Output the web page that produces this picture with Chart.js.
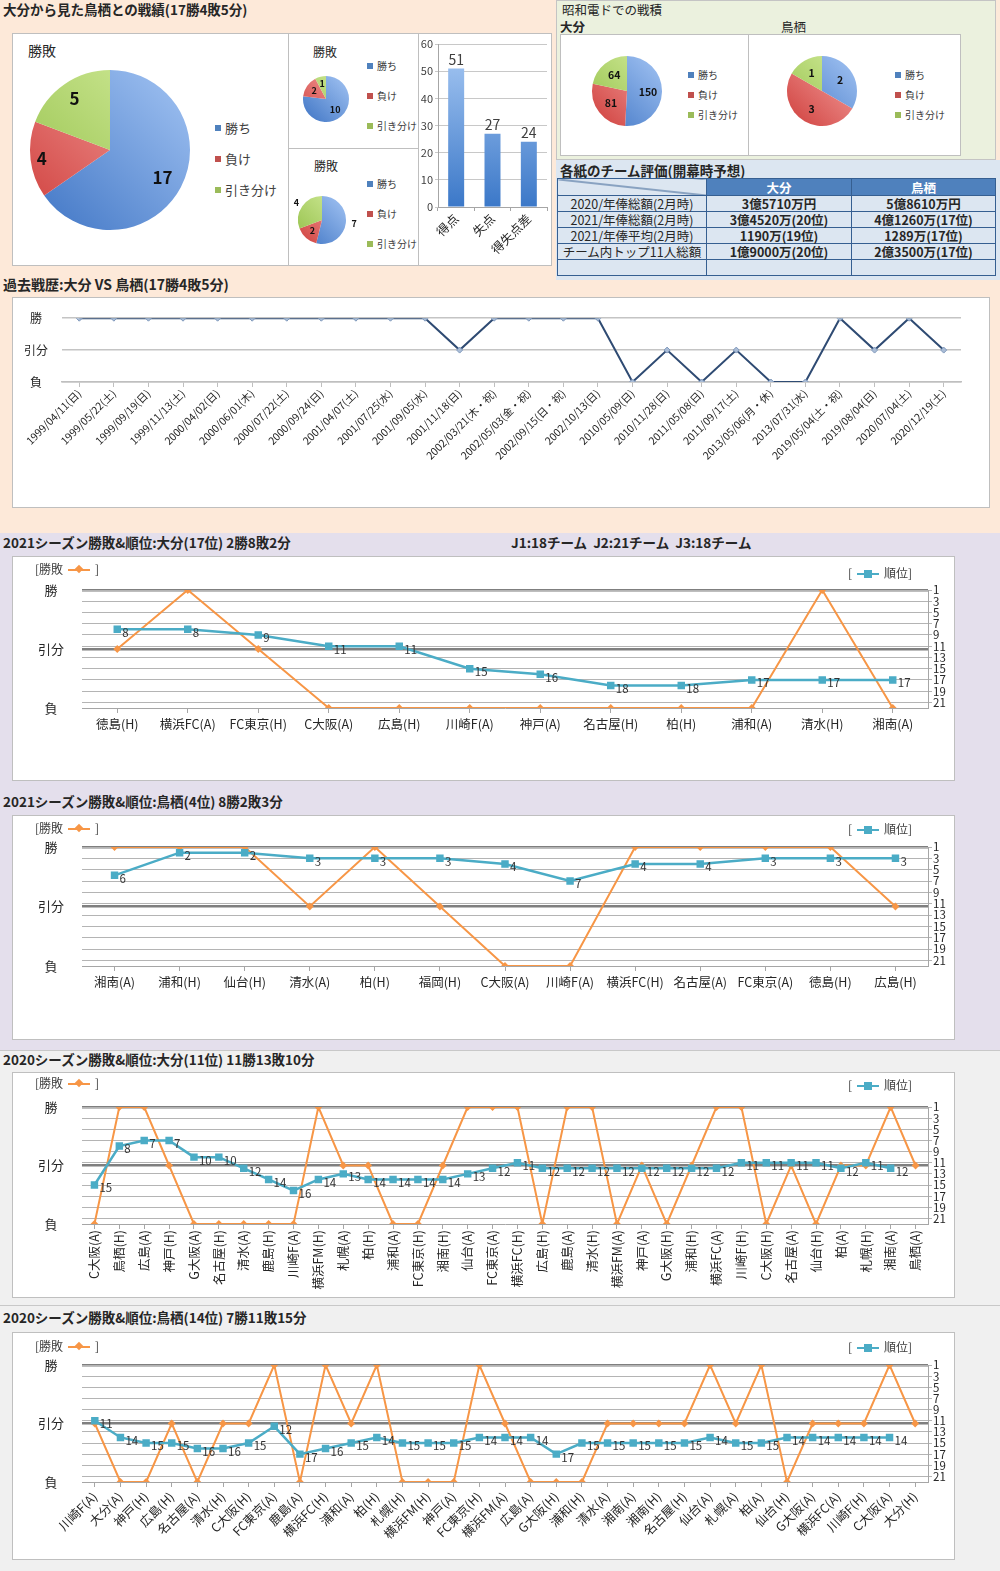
<!DOCTYPE html>
<html lang="ja">
<head>
<meta charset="utf-8">
<script src="https://cdn.jsdelivr.net/npm/chart.js@4.4.1/dist/chart.umd.min.js"></script>
<style>
body { margin:0; font-family:"Noto Sans CJK JP", sans-serif; color:#262626; }
#page { position:relative; width:1000px; height:1571px; overflow:hidden; background:#f0f0f0; }
.sec { position:absolute; }
.box { position:absolute; background:#fff; border:1px solid #bfbfbf; box-sizing:border-box; }
.title { position:absolute; font-weight:bold; font-size:13.5px; white-space:nowrap; line-height:15px; }
.txt { position:absolute; white-space:nowrap; line-height:14px; }
.leg { position:absolute; font-size:12px; white-space:nowrap; line-height:14px; color:#404040; }
.pl { position:absolute; white-space:nowrap; color:#404040; }
.pl div { position:absolute; left:0; }
.sq { display:inline-block; width:6px; height:6px; margin-right:4px; vertical-align:middle; position:relative; top:-1px; }
.mk { display:inline-block; position:relative; width:22px; height:2px; vertical-align:middle; margin:0 5px; top:-1px; }
.mk::after { content:''; position:absolute; left:8px; top:-3px; width:6px; height:6px; background:inherit; transform:rotate(45deg); }
.mk.b::after { transform:none; left:7px; top:-3px; width:8px; height:8px; }
.o { background:#f79646; } .b { background:#4bacc6; }
canvas { position:absolute; }
#rating { position:absolute; left:557px; top:178px; border-collapse:collapse; font-size:12.5px; table-layout:fixed; }
#rating td, #rating th { border:1px solid #365f91; height:15px; padding:0; line-height:15px; text-align:center; background:#dce6f1; white-space:nowrap; }
#rating th { background:#4f81bd; color:#fff; height:16px; }
#rating th.diag { background:#dce6f1 linear-gradient(to top right, transparent calc(50% - 1px), #365f91 50%, transparent calc(50% + 1px)); }
#rating td.v { font-weight:bold; }
</style>
</head>
<body>
<div id="page">
  <!-- backgrounds -->
  <div class="sec" style="left:0;top:0;width:1000px;height:533px;background:#fde9d9"></div>
  <div class="sec" style="left:556px;top:0;width:440px;height:160px;background:#ebf1de;border:1px solid #c4c4c4;box-sizing:border-box"></div>
  <div class="sec" style="left:556px;top:160px;width:444px;height:120px;background:#dce6f1"></div>
  <div class="sec" style="left:0;top:533px;width:1000px;height:517px;background:#e4dfec"></div>
  <div class="sec" style="left:0;top:1050px;width:1000px;height:521px;background:#f0f0f0;border-top:1px solid #c8c8c8"></div>
  <div class="sec" style="left:0;top:1305px;width:1000px;height:1px;background:#c8c8c8"></div>

  <!-- top left -->
  <div class="title" style="left:3px;top:2px">大分から見た鳥栖との戦績(17勝4敗5分)</div>
  <div class="box" style="left:12px;top:33px;width:277px;height:233px"></div>
  <div class="box" style="left:288px;top:33px;width:131px;height:116px"></div>
  <div class="box" style="left:288px;top:148px;width:131px;height:118px"></div>
  <div class="box" style="left:418px;top:33px;width:134px;height:233px"></div>
  <div class="txt" style="left:28px;top:43px;font-size:14px">勝敗</div>
  <div class="txt" style="left:313px;top:45px;font-size:12px">勝敗</div>
  <div class="txt" style="left:314px;top:159px;font-size:12px">勝敗</div>
  <canvas id="pieAll" width="170" height="170" style="left:25px;top:65px"></canvas>
  <canvas id="pieHome" width="60" height="60" style="left:296px;top:69px"></canvas>
  <canvas id="pieAway" width="84" height="84" style="left:280px;top:178px"></canvas>
  <canvas id="goals" width="134" height="232" style="left:418px;top:33px"></canvas>
  <div id="legAll" class="pl" style="left:215px;top:118px;font-size:13px"></div>
  <div id="legHome" class="pl" style="left:367px;top:58px;font-size:10px"></div>
  <div id="legAway" class="pl" style="left:367px;top:176px;font-size:10px"></div>

  <!-- top right -->
  <div class="txt" style="left:562px;top:3px;font-size:12.5px">昭和電ドでの戦積</div>
  <div class="txt" style="left:560px;top:20px;font-size:12.5px;font-weight:bold">大分</div>
  <div class="txt" style="left:781px;top:20px;font-size:12.5px">鳥栖</div>
  <div class="box" style="left:560px;top:34px;width:189px;height:122px"></div>
  <div class="box" style="left:748px;top:34px;width:213px;height:122px"></div>
  <canvas id="pieShowaOita" width="84" height="84" style="left:585px;top:49px"></canvas>
  <canvas id="pieShowaTosu" width="84" height="84" style="left:780px;top:49px"></canvas>
  <div id="legShowaOita" class="pl" style="left:688px;top:67px;font-size:10px"></div>
  <div id="legShowaTosu" class="pl" style="left:895px;top:67px;font-size:10px"></div>
  <div class="title" style="left:560px;top:163px;font-size:13.5px">各紙のチーム評価(開幕時予想)</div>
  <table id="rating"></table>

  <!-- past record -->
  <div class="title" style="left:3px;top:277px;font-size:14px">過去戦歴:大分 VS 鳥栖(17勝4敗5分)</div>
  <div class="box" style="left:12px;top:297px;width:978px;height:211px"></div>
  <canvas id="past" width="978" height="210" style="left:12px;top:297px"></canvas>

  <!-- 2021 Oita -->
  <div class="title" style="left:3px;top:535px">2021シーズン勝敗&amp;順位:大分(17位) 2勝8敗2分</div>
  <div class="title" style="left:511px;top:535px">J1:18チーム&nbsp; J2:21チーム&nbsp; J3:18チーム</div>
  <div class="box" style="left:12px;top:556px;width:943px;height:225px"></div>
  <canvas id="c21o" width="943" height="225" style="left:12px;top:556px"></canvas>
  <div class="leg" style="left:35px;top:562px">[勝敗<span class="mk o"></span>]</div>
  <div class="leg" style="left:848px;top:566px">[<span class="mk b"></span>順位]</div>

  <!-- 2021 Tosu -->
  <div class="title" style="left:3px;top:794px">2021シーズン勝敗&amp;順位:鳥栖(4位) 8勝2敗3分</div>
  <div class="box" style="left:12px;top:815px;width:943px;height:225px"></div>
  <canvas id="c21t" width="943" height="225" style="left:12px;top:815px"></canvas>
  <div class="leg" style="left:35px;top:821px">[勝敗<span class="mk o"></span>]</div>
  <div class="leg" style="left:848px;top:822px">[<span class="mk b"></span>順位]</div>

  <!-- 2020 Oita -->
  <div class="title" style="left:3px;top:1052px">2020シーズン勝敗&amp;順位:大分(11位) 11勝13敗10分</div>
  <div class="box" style="left:12px;top:1072px;width:943px;height:226px"></div>
  <canvas id="c20o" width="943" height="226" style="left:12px;top:1072px"></canvas>
  <div class="leg" style="left:35px;top:1076px">[勝敗<span class="mk o"></span>]</div>
  <div class="leg" style="left:848px;top:1078px">[<span class="mk b"></span>順位]</div>

  <!-- 2020 Tosu -->
  <div class="title" style="left:3px;top:1310px">2020シーズン勝敗&amp;順位:鳥栖(14位) 7勝11敗15分</div>
  <div class="box" style="left:12px;top:1332px;width:943px;height:228px"></div>
  <canvas id="c20t" width="943" height="228" style="left:12px;top:1332px"></canvas>
  <div class="leg" style="left:35px;top:1339px">[勝敗<span class="mk o"></span>]</div>
  <div class="leg" style="left:848px;top:1340px">[<span class="mk b"></span>順位]</div>
</div>

<script>
// ---- data ----
const resultLabels = ['勝ち', '負け', '引き分け'];
const totalResults = [17, 4, 5];
const homeResults = [10, 2, 1];
const awayResults = [7, 2, 4];
const showaOita = [150, 81, 64];
const showaTosu = [2, 3, 1];

const goalLabels = ['得点', '失点', '得失点差'];
const goalValues = [51, 27, 24];

const ratingRows = ['2020/年俸総額(2月時)', '2021/年俸総額(2月時)', '2021/年俸平均(2月時)', 'チーム内トップ11人総額', ''];
const ratingOita = ['3億5710万円', '3億4520万(20位)', '1190万(19位)', '1億9000万(20位)', ''];
const ratingTosu = ['5億8610万円', '4億1260万(17位)', '1289万(17位)', '2億3500万(17位)', ''];

const pastDates = ['1999/04/11(日)', '1999/05/22(土)', '1999/09/19(日)', '1999/11/13(土)', '2000/04/02(日)',
  '2000/06/01(木)', '2000/07/22(土)', '2000/09/24(日)', '2001/04/07(土)', '2001/07/25(水)', '2001/09/05(水)',
  '2001/11/18(日)', '2002/03/21(木・祝)', '2002/05/03(金・祝)', '2002/09/15(日・祝)', '2002/10/13(日)',
  '2010/05/09(日)', '2010/11/28(日)', '2011/05/08(日)', '2011/09/17(土)', '2013/05/06(月・休)',
  '2013/07/31(水)', '2019/05/04(土・祝)', '2019/08/04(日)', '2020/07/04(土)', '2020/12/19(土)'];
const pastResults = ['勝', '勝', '勝', '勝', '勝', '勝', '勝', '勝', '勝', '勝', '勝', '分', '勝', '勝', '勝', '勝',
  '負', '分', '負', '分', '負', '負', '勝', '分', '勝', '分'];

const oita2021Games = ['徳島(H)', '横浜FC(A)', 'FC東京(H)', 'C大阪(A)', '広島(H)', '川崎F(A)', '神戸(A)', '名古屋(H)', '柏(H)', '浦和(A)', '清水(H)', '湘南(A)'];
const oita2021Results = ['分', '勝', '分', '負', '負', '負', '負', '負', '負', '負', '勝', '負'];
const oita2021Ranks = [8, 8, 9, 11, 11, 15, 16, 18, 18, 17, 17, 17];

const tosu2021Games = ['湘南(A)', '浦和(H)', '仙台(H)', '清水(A)', '柏(H)', '福岡(H)', 'C大阪(A)', '川崎F(A)', '横浜FC(H)', '名古屋(A)', 'FC東京(A)', '徳島(H)', '広島(H)'];
const tosu2021Results = ['勝', '勝', '勝', '分', '勝', '分', '負', '負', '勝', '勝', '勝', '勝', '分'];
const tosu2021Ranks = [6, 2, 2, 3, 3, 3, 4, 7, 4, 4, 3, 3, 3];

const oita2020Games = ['C大阪(A)', '鳥栖(H)', '広島(A)', '神戸(H)', 'G大阪(A)', '名古屋(H)', '清水(A)', '鹿島(H)', '川崎F(A)',
  '横浜FM(H)', '札幌(A)', '柏(H)', '浦和(A)', 'FC東京(H)', '湘南(H)', '仙台(A)', 'FC東京(A)', '横浜FC(H)', '広島(H)',
  '鹿島(A)', '清水(H)', '横浜FM(A)', '神戸(A)', 'G大阪(H)', '浦和(H)', '横浜FC(A)', '川崎F(H)', 'C大阪(H)', '名古屋(A)',
  '仙台(H)', '柏(A)', '札幌(H)', '湘南(A)', '鳥栖(A)'];
const oita2020Results = ['負', '勝', '勝', '分', '負', '負', '負', '負', '負', '勝', '分', '分', '負', '負', '分', '勝', '勝',
  '勝', '負', '勝', '勝', '負', '分', '負', '分', '勝', '勝', '負', '分', '負', '分', '分', '勝', '分'];
const oita2020Ranks = [15, 8, 7, 7, 10, 10, 12, 14, 16, 14, 13, 14, 14, 14, 14, 13, 12, 11, 12, 12, 12, 12, 12, 12, 12, 12,
  11, 11, 11, 11, 12, 11, 12, null];

const tosu2020Games = ['川崎F(A)', '大分(A)', '神戸(H)', '広島(H)', '名古屋(A)', '清水(H)', 'C大阪(H)', 'FC東京(A)', '鹿島(A)',
  '横浜FC(H)', '浦和(A)', '柏(H)', '札幌(H)', '横浜FM(H)', '神戸(A)', 'FC東京(H)', '横浜FM(A)', '広島(A)', 'G大阪(H)',
  '浦和(H)', '清水(A)', '湘南(A)', '湘南(H)', '名古屋(H)', '仙台(A)', '札幌(A)', '柏(A)', '仙台(H)', 'G大阪(A)',
  '横浜FC(A)', '川崎F(H)', 'C大阪(A)', '大分(H)'];
const tosu2020Results = ['分', '負', '負', '分', '負', '分', '分', '勝', '負', '勝', '分', '勝', '負', '負', '負', '勝', '分',
  '負', '負', '負', '分', '分', '分', '分', '勝', '分', '勝', '負', '分', '分', '分', '勝', '分'];
const tosu2020Ranks = [11, 14, 15, 15, 16, 16, 15, 12, 17, 16, 15, 14, 15, 15, 15, 14, 14, 14, 17, 15, 15, 15, 15, 15, 14,
  15, 15, 14, 14, 14, 14, 14, null];

const resultValue = { '勝': 1, '分': 0, '負': -1 };
const resultNames = { '1': '勝', '0': '引分', '-1': '負' };
const rankTicks = [1, 3, 5, 7, 9, 11, 13, 15, 17, 19, 21];

// ---- styles ----
const ORANGE = '#f79646';
const BLUE = '#4bacc6';
const JP = '"Noto Sans CJK JP", sans-serif';
const sliceSolid = ['#4f81bd', '#c0504d', '#9bbb59'];
const sliceLight = ['#a3c4f3', '#f7a8a6', '#d3ec9c'];
const sliceDark = ['#3e74c4', '#cf3f3c', '#93bf48'];

// ---- pie charts ----
function sliceFill(ctx) {
  const chart = ctx.chart;
  const area = chart.chartArea;
  const i = ctx.dataIndex;
  if (!area) return sliceSolid[i];
  const g = chart.ctx.createLinearGradient(area.right, area.top, area.left, area.bottom);
  g.addColorStop(0, sliceLight[i]);
  g.addColorStop(1, sliceDark[i]);
  return g;
}

function pieLabels(font, radii) {
  return {
    id: 'pieLabels',
    afterDatasetsDraw(chart) {
      const c = chart.ctx;
      const values = chart.data.datasets[0].data;
      c.save();
      c.font = font;
      c.fillStyle = '#111';
      c.textAlign = 'center';
      c.textBaseline = 'middle';
      chart.getDatasetMeta(0).data.forEach((arc, i) => {
        const mid = (arc.startAngle + arc.endAngle) / 2;
        const r = arc.outerRadius * radii[i];
        c.fillText(values[i], arc.x + Math.cos(mid) * r, arc.y + Math.sin(mid) * r);
      });
      c.restore();
    }
  };
}

function pieChart(id, values, pad, font, radii) {
  return new Chart(document.getElementById(id), {
    type: 'pie',
    data: { labels: resultLabels, datasets: [{ data: values, backgroundColor: sliceFill, borderWidth: 0 }] },
    options: {
      responsive: false, animation: false,
      layout: { padding: pad },
      plugins: { legend: { display: false }, tooltip: { enabled: false } }
    },
    plugins: [pieLabels(font, radii)]
  });
}

function pieLegend(id, gap) {
  const el = document.getElementById(id);
  resultLabels.forEach((name, i) => {
    const d = document.createElement('div');
    d.style.top = (i * gap) + 'px';
    d.innerHTML = '<span class="sq" style="background:' + sliceSolid[i] + '"></span>' + name;
    el.appendChild(d);
  });
}

pieChart('pieAll', totalResults, 5, 'bold 17px ' + JP, [0.74, 0.86, 0.78]);
pieChart('pieHome', homeResults, 7, 'bold 9px ' + JP, [0.6, 0.62, 0.7]);
pieChart('pieAway', awayResults, 18, 'bold 9px ' + JP, [1.35, 0.6, 1.3]);
pieChart('pieShowaOita', showaOita, 7, 'bold 10.5px ' + JP, [0.6, 0.58, 0.58]);
pieChart('pieShowaTosu', showaTosu, 7, 'bold 10.5px ' + JP, [0.6, 0.6, 0.6]);
pieLegend('legAll', 31);
pieLegend('legHome', 30);
pieLegend('legAway', 30);
pieLegend('legShowaOita', 20);
pieLegend('legShowaTosu', 20);

// ---- goals bar chart ----
const barLabels = {
  id: 'barLabels',
  afterDatasetsDraw(chart) {
    const c = chart.ctx;
    c.save();
    c.font = '14px ' + JP;
    c.fillStyle = '#404040';
    c.textAlign = 'center';
    c.textBaseline = 'bottom';
    chart.getDatasetMeta(0).data.forEach((bar, i) => {
      c.fillText(goalValues[i], bar.x, bar.y - 2);
    });
    c.restore();
  }
};

new Chart(document.getElementById('goals'), {
  type: 'bar',
  data: {
    labels: goalLabels,
    datasets: [{
      data: goalValues,
      backgroundColor(ctx) {
        const area = ctx.chart.chartArea;
        if (!area) return '#6fa0e0';
        const g = ctx.chart.ctx.createLinearGradient(0, area.top, 0, area.bottom);
        g.addColorStop(0, '#a8c9f4');
        g.addColorStop(1, '#3b78c8');
        return g;
      },
      barPercentage: 0.44,
      categoryPercentage: 1
    }]
  },
  options: {
    responsive: false, animation: false,
    layout: { padding: { top: 11, right: 5 } },
    plugins: { legend: { display: false }, tooltip: { enabled: false } },
    scales: {
      y: {
        min: 0, max: 60,
        ticks: { stepSize: 10, font: { size: 11, family: JP }, color: '#404040', padding: 2 },
        grid: { color: '#c8c8c8', tickLength: 3 },
        border: { color: '#a6a6a6' },
        afterFit(s) { s.width = 20; }
      },
      x: {
        grid: { drawOnChartArea: false, tickLength: 4, color: '#a6a6a6' },
        border: { color: '#a6a6a6' },
        ticks: { font: { size: 12.5, family: JP }, color: '#262626', maxRotation: 45, minRotation: 45, padding: 0 },
        afterFit(s) { s.height = 58; }
      }
    }
  },
  plugins: [barLabels]
});

// ---- rating table ----
(function () {
  const t = document.getElementById('rating');
  let html = '<colgroup><col style="width:149px"><col style="width:145px"><col style="width:144px"></colgroup>';
  html += '<tr><th class="diag"></th><th>大分</th><th>鳥栖</th></tr>';
  ratingRows.forEach((r, i) => {
    html += '<tr><td>' + r + '</td><td class="v">' + ratingOita[i] + '</td><td class="v">' + ratingTosu[i] + '</td></tr>';
  });
  t.innerHTML = html;
})();

// ---- past record line chart ----
new Chart(document.getElementById('past'), {
  type: 'line',
  data: {
    labels: pastDates,
    datasets: [{
      data: pastResults.map(r => resultValue[r]),
      borderColor: '#2f4b73',
      borderWidth: 2,
      pointStyle: 'rectRot',
      pointRadius: 3,
      pointBackgroundColor: '#a9bcd6',
      pointBorderColor: '#7f98bb',
      pointBorderWidth: 1,
      tension: 0
    }]
  },
  options: {
    responsive: false, animation: false,
    layout: { padding: { top: 13, right: 29 } },
    plugins: { legend: { display: false }, tooltip: { enabled: false } },
    scales: {
      x: {
        offset: true,
        grid: { drawOnChartArea: false, tickLength: 5, color: '#bfbfbf' },
        border: { color: '#bfbfbf', width: 1.5 },
        ticks: { font: { size: 10.5, family: JP }, color: '#262626', maxRotation: 45, minRotation: 45, autoSkip: false, padding: 0 },
        afterFit(s) { s.height = 125; }
      },
      y: {
        min: -1, max: 1,
        afterBuildTicks(s) { s.ticks = [-1, 0, 1].map(v => ({ value: v })); },
        ticks: { callback: v => resultNames[v], font: { size: 12, family: JP }, color: '#262626', crossAlign: 'center', padding: 14, autoSkip: false },
        grid: { color: '#c4c4c4', lineWidth: 1.5, drawTicks: false },
        border: { display: false },
        afterFit(s) { s.width = 50; }
      }
    }
  }
});

// ---- season charts ----
const rankLabels = {
  id: 'rankLabels',
  afterDatasetsDraw(chart) {
    const c = chart.ctx;
    const values = chart.data.datasets[0].data;
    c.save();
    c.font = '11.5px ' + JP;
    c.fillStyle = '#333';
    c.textBaseline = 'middle';
    chart.getDatasetMeta(0).data.forEach((pt, i) => {
      if (values[i] == null) return;
      c.fillText(values[i], pt.x + 5, pt.y + 3);
    });
    c.restore();
  }
};

function seasonChart(id, games, results, ranks, top, plotH, rot, labelPad, labelSize) {
  const canvas = document.getElementById(id);
  return new Chart(canvas, {
    type: 'line',
    data: {
      labels: games,
      datasets: [
        {
          label: '順位', data: ranks, yAxisID: 'yR',
          borderColor: BLUE, backgroundColor: BLUE, borderWidth: 2.5,
          pointStyle: 'rect', pointRadius: 3.5, pointBackgroundColor: BLUE, pointBorderColor: BLUE, tension: 0
        },
        {
          label: '勝敗', data: results.map(r => resultValue[r]), yAxisID: 'y',
          borderColor: ORANGE, backgroundColor: ORANGE, borderWidth: 2,
          pointStyle: 'rectRot', pointRadius: 2.5, pointBackgroundColor: ORANGE, pointBorderColor: ORANGE, tension: 0
        }
      ]
    },
    options: {
      responsive: false, animation: false,
      layout: { padding: { top: top, left: 0, right: 0, bottom: 0 } },
      plugins: { legend: { display: false }, tooltip: { enabled: false } },
      scales: {
        x: {
          offset: true,
          grid: { drawOnChartArea: false, tickLength: 5, color: '#a6a6a6' },
          border: { color: '#a6a6a6' },
          ticks: { font: { size: labelSize, family: JP }, color: '#262626', maxRotation: rot, minRotation: rot, autoSkip: false, padding: labelPad },
          afterFit(s) { s.height = canvas.height - top - plotH; }
        },
        y: {
          position: 'left', min: -1, max: 1,
          afterBuildTicks(s) { s.ticks = [-1, 0, 1].map(v => ({ value: v })); },
          ticks: { callback: v => resultNames[v], font: { size: 13, family: JP }, color: '#262626', crossAlign: 'center', padding: 18, autoSkip: false },
          grid: { color: c => (c.tick && c.tick.value === -1) ? 'rgba(0,0,0,0)' : '#7f7f7f', lineWidth: 2.5, drawTicks: false },
          border: { display: false },
          afterFit(s) { s.width = 70; }
        },
        yR: {
          position: 'right', reverse: true, min: 1, max: 22,
          afterBuildTicks(s) { s.ticks = rankTicks.map(v => ({ value: v })); },
          ticks: { font: { size: 11.5, family: JP }, color: '#262626', padding: 1, autoSkip: false },
          grid: { color: '#b4b4b4', tickLength: 4 },
          border: { color: '#a6a6a6' },
          afterFit(s) { s.width = 27; }
        }
      }
    },
    plugins: [rankLabels]
  });
}

seasonChart('c21o', oita2021Games, oita2021Results, oita2021Ranks, 34, 118, 0, 4, 12.5);
seasonChart('c21t', tosu2021Games, tosu2021Results, tosu2021Ranks, 32, 119, 0, 4, 12.5);
seasonChart('c20o', oita2020Games, oita2020Results, oita2020Ranks, 35, 117, 90, 1, 12.5);
seasonChart('c20t', tosu2020Games, tosu2020Results, tosu2020Ranks, 33, 117, 45, 2, 12.5);
</script>
</body>
</html>
